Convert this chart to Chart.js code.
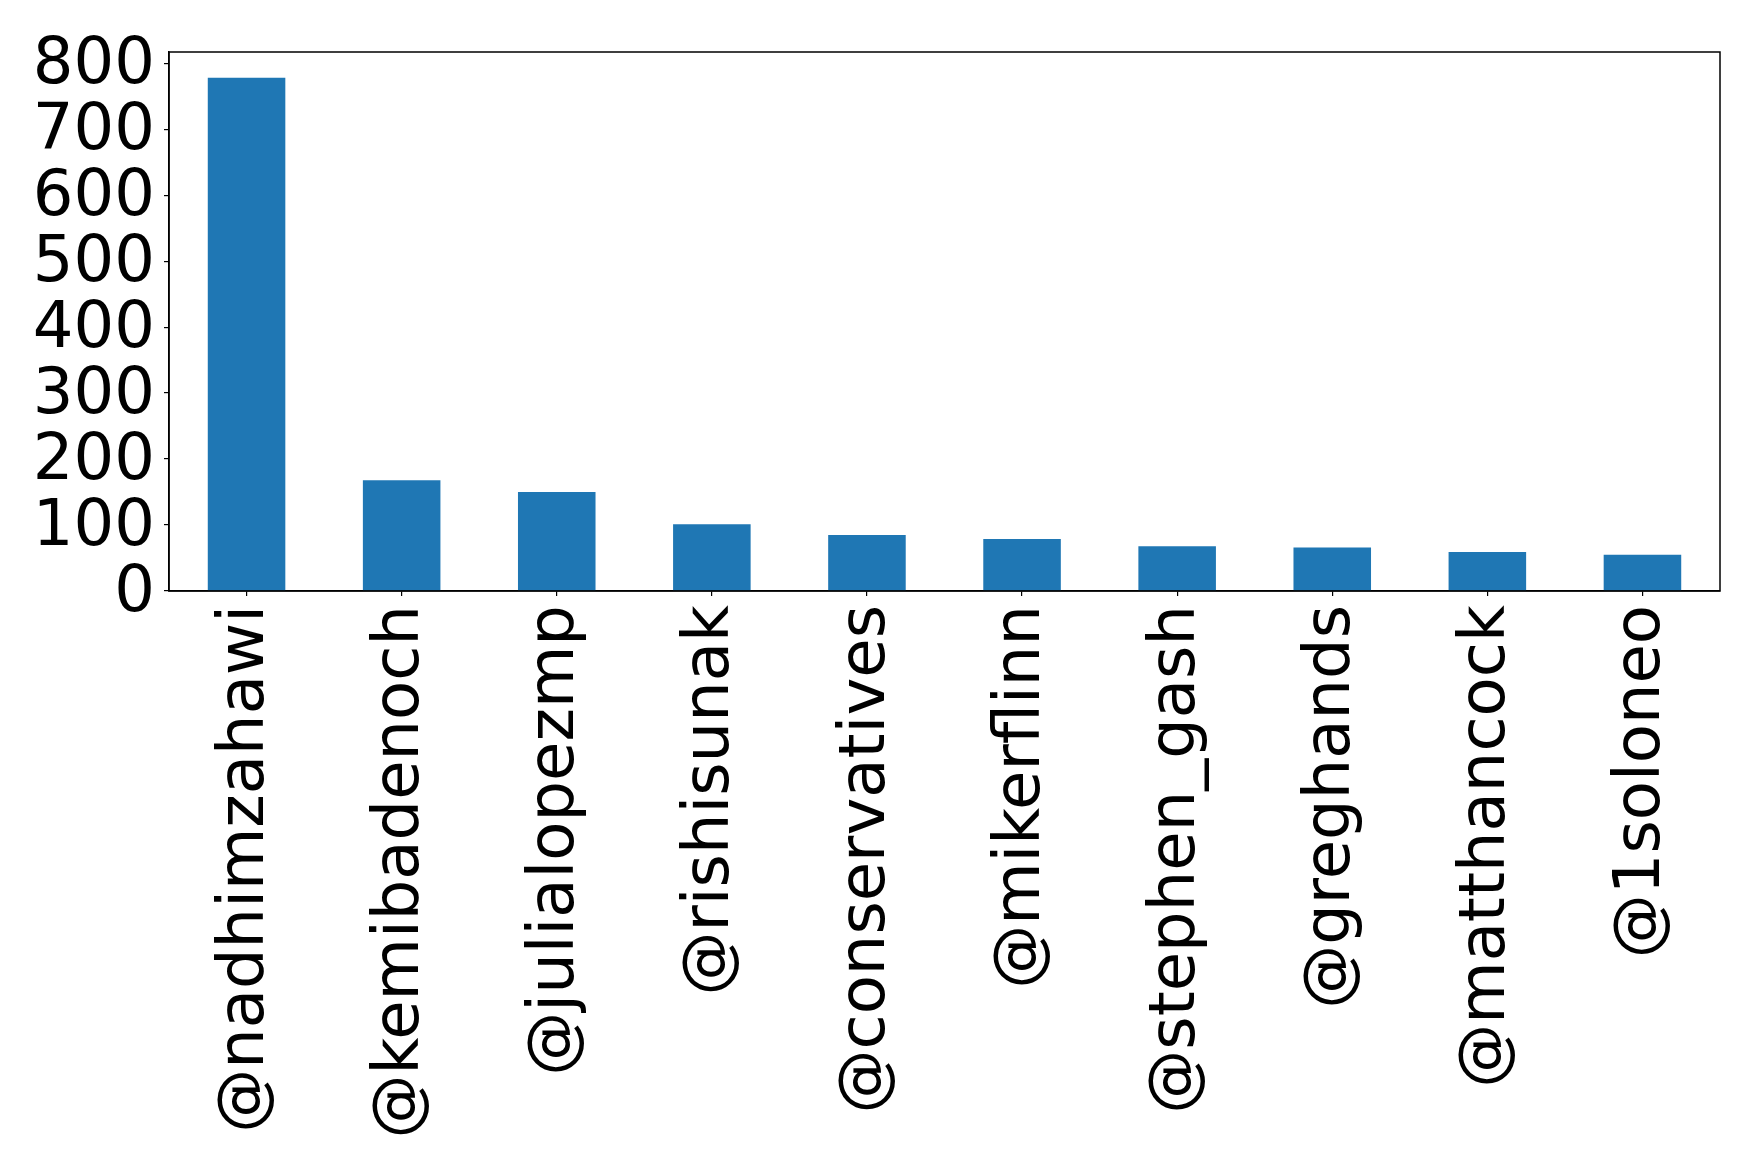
<!DOCTYPE html>
<html>
<head>
<meta charset="utf-8">
<script src="https://cdn.jsdelivr.net/npm/chart.js@4"></script>
<style>
  html, body { margin: 0; padding: 0; background: #ffffff; }
  canvas { display: block; }
</style>
</head>
<body>
<canvas id="chart" width="1759" height="1161"></canvas>
<script>
// ---------------------------------------------------------------------------
// Data
// ---------------------------------------------------------------------------
const accounts = [
  "@nadhimzahawi", "@kemibadenoch", "@julialopezmp", "@rishisunak",
  "@conservatives", "@mikerflinn", "@stephen_gash", "@greghands",
  "@matthancock", "@1soloneo"
];
const mentionCounts = [778, 168, 150, 101, 85, 79, 68, 66, 59, 55];
const yTicks = [0, 100, 200, 300, 400, 500, 600, 700, 800];

// Layout of the plot box (matplotlib-like figure)
const PLOT_LEFT = 169, PLOT_TOP = 52, PLOT_RIGHT = 1720, PLOT_BOTTOM = 591;
const W = 1759, H = 1161;

// Draws the full black frame round the plot area (top and right too).
const frameBox = {
  id: "frameBox",
  afterDatasetsDraw(chart) {
    const a = chart.chartArea;
    const ctx = chart.ctx;
    ctx.save();
    ctx.strokeStyle = "#000000";
    ctx.lineWidth = 1.5;
    ctx.strokeRect(a.left, a.top, a.right - a.left, a.bottom - a.top);
    ctx.restore();
  }
};

const font = { family: "'DejaVu Sans', sans-serif", size: 64 };

new Chart(document.getElementById("chart"), {
  type: "bar",
  data: {
    labels: accounts,
    datasets: [{
      data: mentionCounts,
      backgroundColor: "#1f77b4",
      barPercentage: 0.5,
      categoryPercentage: 1.0,
    }],
  },
  options: {
    responsive: false,
    animation: false,
    devicePixelRatio: 1,
    layout: { padding: { top: PLOT_TOP, right: W - PLOT_RIGHT, left: 0, bottom: 0 } },
    plugins: { legend: { display: false }, tooltip: { enabled: false } },
    scales: {
      x: {
        offset: true,
        grid: { display: true, offset: false, drawOnChartArea: false, color: "#000000", tickLength: 5, lineWidth: 1.2 },
        border: { display: true, color: "#000000", width: 1.5 },
        ticks: { color: "#000000", font: font, minRotation: 90, maxRotation: 90, padding: 9, autoSkip: false },
        afterFit(scale) { scale.height = H - PLOT_BOTTOM; },
      },
      y: {
        min: 0,
        max: 817,
        grid: { display: true, drawOnChartArea: false, color: "#000000", tickLength: 5, lineWidth: 1.2 },
        border: { display: true, color: "#000000", width: 1.5 },
        ticks: { color: "#000000", font: font, padding: 9, autoSkip: false, labelOffset: 3 },
        afterBuildTicks(scale) { scale.ticks = yTicks.map((v) => ({ value: v })); },
        afterFit(scale) { scale.width = PLOT_LEFT; },
      },
    },
  },
  plugins: [frameBox],
});
</script>
</body>
</html>
